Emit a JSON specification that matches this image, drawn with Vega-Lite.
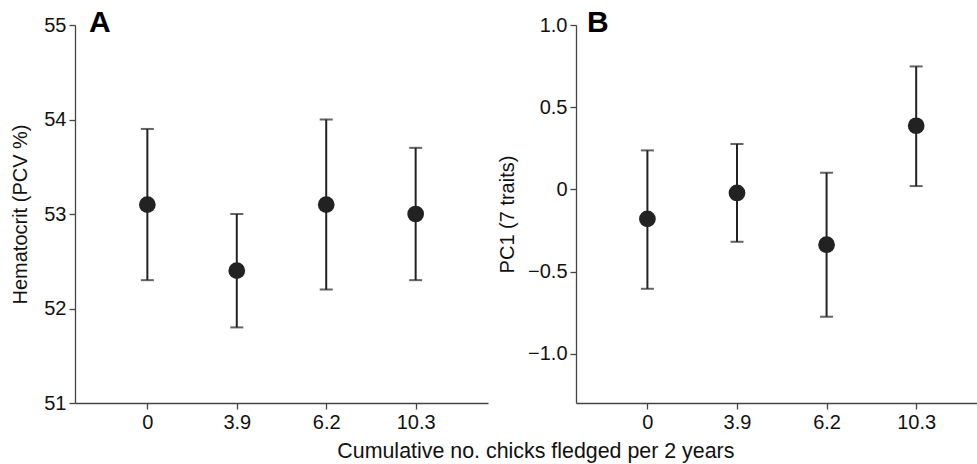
{
  "$schema": "https://vega.github.io/schema/vega-lite/v6.json",
  "autosize": {"type": "pad"},
  "padding": {"left": 10, "top": 8, "right": 0, "bottom": 0},
  "background": "white",
  "config": {
    "font": "Liberation Sans",
    "view": {"stroke": null},
    "axis": {
      "labelFont": "Liberation Sans",
      "titleFont": "Liberation Sans",
      "labelFontSize": 20,
      "titleFontSize": 20,
      "titleFontWeight": "normal",
      "labelColor": "#111",
      "titleColor": "#111",
      "domainColor": "#444",
      "domainWidth": 1.3,
      "tickColor": "#444",
      "tickWidth": 1.3,
      "tickSize": 6,
      "grid": false
    }
  },
  "datasets": {
    "A": [
      {"x": "0", "mean": 53.1, "lo": 52.3, "hi": 53.9},
      {"x": "3.9", "mean": 52.4, "lo": 51.8, "hi": 53.0},
      {"x": "6.2", "mean": 53.1, "lo": 52.2, "hi": 54.0},
      {"x": "10.3", "mean": 53.0, "lo": 52.3, "hi": 53.7}
    ],
    "B": [
      {"x": "0", "mean": -0.18, "lo": -0.605, "hi": 0.237},
      {"x": "3.9", "mean": -0.022, "lo": -0.319, "hi": 0.276},
      {"x": "6.2", "mean": -0.337, "lo": -0.775, "hi": 0.101},
      {"x": "10.3", "mean": 0.387, "lo": 0.02, "hi": 0.748}
    ]
  },
  "title": {
    "text": "Cumulative no. chicks fledged per 2 years",
    "orient": "bottom",
    "anchor": "middle",
    "frame": "bounds",
    "font": "Liberation Sans",
    "fontSize": 21.4,
    "fontWeight": "normal",
    "color": "#111",
    "offset": 9,
    "dx": 42
  },
  "spacing": 88,
  "bounds": "flush",
  "hconcat": [
    {
      "width": 413,
      "height": 378,
      "data": {"name": "A"},
      "title": {
        "text": "A",
        "anchor": "start",
        "frame": "group",
        "fontSize": 30,
        "fontWeight": "bold",
        "font": "Liberation Sans",
        "color": "#000",
        "dx": 14,
        "dy": 23,
        "offset": 0
      },
      "encoding": {
        "x": {
          "field": "x",
          "type": "ordinal",
          "sort": ["0", "3.9", "6.2", "10.3"],
          "scale": {"type": "point", "padding": 0.809},
          "axis": {"title": null, "labelAngle": 0, "labelPadding": 3}
        }
      },
      "layer": [
        {
          "mark": {"type": "rule", "color": "#222", "strokeWidth": 2},
          "encoding": {
            "y": {
              "field": "lo",
              "type": "quantitative",
              "scale": {"domain": [51, 55], "nice": false, "zero": false},
              "axis": {"title": "Hematocrit (PCV %)", "values": [51, 52, 53, 54, 55], "format": "d", "labelPadding": 3, "titlePadding": 13}
            },
            "y2": {"field": "hi"}
          }
        },
        {
          "mark": {"type": "tick", "color": "#222", "size": 13, "thickness": 2},
          "encoding": {"y": {"field": "lo", "type": "quantitative"}}
        },
        {
          "mark": {"type": "tick", "color": "#222", "size": 13, "thickness": 2},
          "encoding": {"y": {"field": "hi", "type": "quantitative"}}
        },
        {
          "mark": {"type": "point", "filled": true, "color": "#222", "opacity": 1, "size": 280},
          "encoding": {"y": {"field": "mean", "type": "quantitative"}}
        }
      ]
    },
    {
      "width": 401,
      "height": 378,
      "data": {"name": "B"},
      "title": {
        "text": "B",
        "anchor": "start",
        "frame": "group",
        "fontSize": 30,
        "fontWeight": "bold",
        "font": "Liberation Sans",
        "color": "#000",
        "dx": 11,
        "dy": 23,
        "offset": 0
      },
      "encoding": {
        "x": {
          "field": "x",
          "type": "ordinal",
          "sort": ["0", "3.9", "6.2", "10.3"],
          "scale": {"type": "point", "padding": 0.738, "align": 0.54},
          "axis": {"title": null, "labelAngle": 0, "labelPadding": 3}
        }
      },
      "layer": [
        {
          "mark": {"type": "rule", "color": "#222", "strokeWidth": 2},
          "encoding": {
            "y": {
              "field": "lo",
              "type": "quantitative",
              "scale": {"domain": [-1.3, 1.0], "nice": false, "zero": false},
              "axis": {
                "title": "PC1 (7 traits)",
                "values": [-1, -0.5, 0, 0.5, 1],
                "labelExpr": "datum.value == 0 ? '0' : format(datum.value, '.1f')",
                "labelPadding": 3,
                "titlePadding": 10
              }
            },
            "y2": {"field": "hi"}
          }
        },
        {
          "mark": {"type": "tick", "color": "#222", "size": 13, "thickness": 2},
          "encoding": {"y": {"field": "lo", "type": "quantitative"}}
        },
        {
          "mark": {"type": "tick", "color": "#222", "size": 13, "thickness": 2},
          "encoding": {"y": {"field": "hi", "type": "quantitative"}}
        },
        {
          "mark": {"type": "point", "filled": true, "color": "#222", "opacity": 1, "size": 280},
          "encoding": {"y": {"field": "mean", "type": "quantitative"}}
        }
      ]
    }
  ]
}
